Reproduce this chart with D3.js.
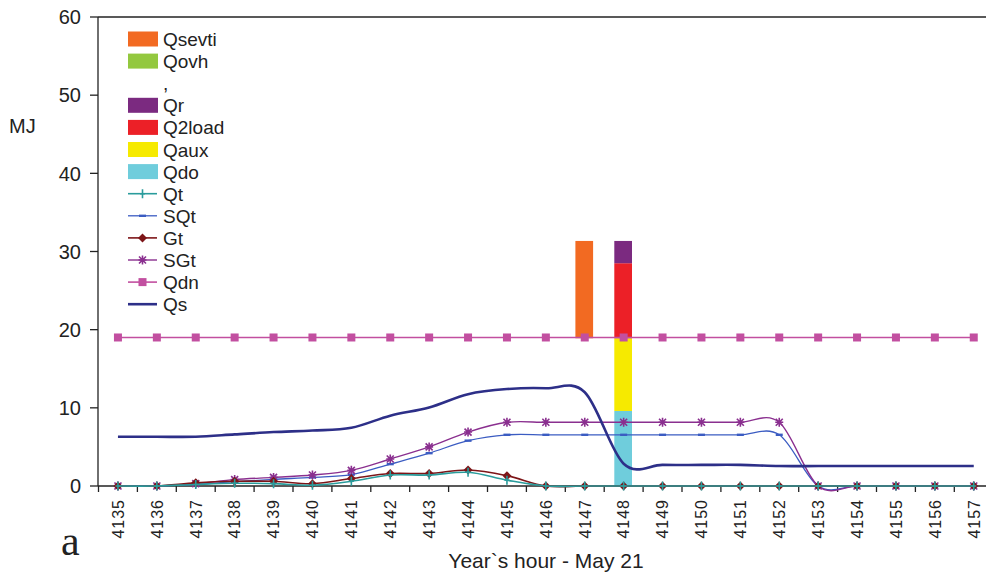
<!DOCTYPE html>
<html>
<head>
<meta charset="utf-8">
<script src="https://cdn.jsdelivr.net/npm/d3@7"></script>
<style>
  html, body { margin: 0; padding: 0; background: #fff; }
  svg { display: block; }
  text { font-family: "Liberation Sans", Arial, sans-serif; fill: #222; }
</style>
</head>
<body>
<svg id="chart" width="986" height="581"></svg>
<script>
// Hours of the year (May 21)
const hours = ["4135","4136","4137","4138","4139","4140","4141","4142","4143","4144","4145","4146",
               "4147","4148","4149","4150","4151","4152","4153","4154","4155","4156","4157"];
const yTicks = [0, 10, 20, 30, 40, 50, 60];

// Stacked bar series (MJ), bottom to top
const Qdo    = [0,0,0,0,0,0,0,0,0,0,0,0, 0, 9.6, 0,0,0,0,0,0,0,0,0];
const Qaux   = [0,0,0,0,0,0,0,0,0,0,0,0, 0, 9.3, 0,0,0,0,0,0,0,0,0];
const Q2load = [0,0,0,0,0,0,0,0,0,0,0,0, 0, 9.6, 0,0,0,0,0,0,0,0,0];
const Qr     = [0,0,0,0,0,0,0,0,0,0,0,0, 0, 2.85,0,0,0,0,0,0,0,0,0];
const Qblank = [0,0,0,0,0,0,0,0,0,0,0,0, 18.9,0, 0,0,0,0,0,0,0,0,0];
const Qovh   = [0,0,0,0,0,0,0,0,0,0,0,0, 0, 0, 0,0,0,0,0,0,0,0,0];
const Qsevti = [0,0,0,0,0,0,0,0,0,0,0,0, 12.45,0,0,0,0,0,0,0,0,0,0];

// Line series (MJ)
const Qt  = [0,0,0.2,0.35,0.3,0.1,0.6,1.4,1.4,1.75,0.75,0, 0,0,0,0,0,0,0,0,0,0,0];
const SQt = [0,0,0.2,0.55,0.85,1.1,1.45,2.8,4.2,5.8,6.55,6.55, 6.55,6.55,6.55,6.55,6.55,6.55,0,0,0,0,0];
const Gt  = [0,0,0.4,0.6,0.6,0.3,0.95,1.6,1.6,2.05,1.32,0, 0,0,0,0,0,0,0,0,0,0,0];
const SGt = [0,0,0.3,0.82,1.1,1.4,2.0,3.45,5.0,6.9,8.15,8.15, 8.15,8.15,8.15,8.15,8.15,8.15,0,0,0,0,0];
const Qdn = [19,19,19,19,19,19,19,19,19,19,19,19, 19,19,19,19,19,19,19,19,19,19,19];
const Qs  = [6.3,6.3,6.3,6.6,6.9,7.1,7.45,9.0,10.05,11.75,12.4,12.5, 12.0,2.85,2.7,2.7,2.7,2.55,2.55,2.55,2.55,2.55,2.55];

const svg = d3.select("#chart");

const x = d3.scaleBand().domain(hours).range([98.5, 98.5 + 23 * 38.9]).padding(0);
const y = d3.scaleLinear().domain([0, 60]).range([486, 17]);
const cx = h => x(h) + x.bandwidth() / 2;

// ---- bars ----
const barKeys = ["Qdo", "Qaux", "Q2load", "Qr", "blank", "Qovh", "Qsevti"];
const barColors = { Qdo: "#6fcddc", Qaux: "#f6ea00", Q2load: "#ec2027", Qr: "#7b2a80",
                    blank: "none", Qovh: "#93c83f", Qsevti: "#f26a22" };
const barSrc = { Qdo, Qaux, Q2load, Qr, blank: Qblank, Qovh, Qsevti };
const rows = hours.map((h, i) => {
  const r = { hour: h };
  barKeys.forEach(k => r[k] = barSrc[k][i]);
  return r;
});
const stacked = d3.stack().keys(barKeys)(rows);
const barW = x.bandwidth() * 0.455;
svg.append("g").selectAll("g").data(stacked).join("g")
  .attr("fill", d => barColors[d.key])
  .selectAll("rect").data(d => d.filter(p => p[1] - p[0] > 0)).join("rect")
  .attr("x", d => cx(d.data.hour) - barW / 2 - 0.5)
  .attr("width", barW)
  .attr("y", d => y(d[1]))
  .attr("height", d => y(d[0]) - y(d[1]));

// ---- axes ----
const axisColor = "#222";
const g = svg.append("g");
// left axis line and top frame line
g.append("line").attr("x1", 98).attr("x2", 98).attr("y1", y(60)).attr("y2", y(0))
  .attr("stroke", axisColor).attr("stroke-width", 1.3);
g.append("line").attr("x1", 98).attr("x2", 986).attr("y1", y(60)).attr("y2", y(60))
  .attr("stroke", axisColor).attr("stroke-width", 1.3);
// y ticks
yTicks.forEach(t => {
  g.append("line").attr("x1", 90).attr("x2", 98).attr("y1", y(t)).attr("y2", y(t))
    .attr("stroke", axisColor).attr("stroke-width", 1.3);
  g.append("text").attr("x", 81).attr("y", y(t)).attr("dy", "0.36em")
    .attr("text-anchor", "end").style("font-size", "20px").text(t);
});
// x axis line
g.append("line").attr("x1", 98).attr("x2", 986).attr("y1", y(0)).attr("y2", y(0))
  .attr("stroke", axisColor).attr("stroke-width", 1.3);
// category boundary ticks
hours.forEach(h => {
  g.append("line").attr("x1", x(h)).attr("x2", x(h)).attr("y1", y(0)).attr("y2", y(0) + 6)
    .attr("stroke", axisColor).attr("stroke-width", 1.3);
});
// rotated hour labels
hours.forEach(h => {
  g.append("text")
    .attr("transform", `translate(${cx(h)},${499}) rotate(-90)`)
    .attr("text-anchor", "end").attr("dy", "0.36em")
    .style("font-size", "16px").style("letter-spacing", "1px")
    .text(h);
});

// axis titles
svg.append("text").attr("x", 9).attr("y", 133).style("font-size", "20px").text("MJ");
svg.append("text").attr("x", 546).attr("y", 568).attr("text-anchor", "middle")
  .style("font-size", "21px").text("Year`s hour - May 21");
svg.append("text").attr("x", 61).attr("y", 555)
  .style("font-family", "'Liberation Serif', 'DejaVu Serif', serif").style("font-size", "42px")
  .text("a");

// ---- lines ----
const line = d3.line()
  .x((d, i) => cx(hours[i]))
  .y(d => y(d))
  .curve(d3.curveCardinal.tension(0));

const lineSeries = [
  { name: "SQt", data: SQt, color: "#3b5cc2", width: 1.3, marker: "dash" },
  { name: "SGt", data: SGt, color: "#8a2f8f", width: 1.4, marker: "star" },
  { name: "Gt",  data: Gt,  color: "#7d1518", width: 1.6, marker: "diamond" },
  { name: "Qt",  data: Qt,  color: "#2a9c9c", width: 1.6, marker: "plus" },
  { name: "Qdn", data: Qdn, color: "#c24fa0", width: 1.6, marker: "square" },
  { name: "Qs",  data: Qs,  color: "#2d2f88", width: 2.6, marker: null }
];

function drawMarker(sel, type, color) {
  if (type === "square") {
    sel.append("rect").attr("x", -4).attr("y", -4).attr("width", 8).attr("height", 8)
      .attr("fill", color);
  } else if (type === "diamond") {
    sel.append("path").attr("d", "M0,-4.5L4.5,0L0,4.5L-4.5,0Z").attr("fill", color);
  } else if (type === "star") {
    sel.append("path").attr("d", "M-3.5,-3.5L3.5,3.5M-3.5,3.5L3.5,-3.5M0,-4.5L0,4.5M-4,0L4,0")
      .attr("stroke", color).attr("stroke-width", 1.6);
  } else if (type === "plus") {
    sel.append("path").attr("d", "M0,-4.5L0,4.5M-2.5,0L2.5,0")
      .attr("stroke", color).attr("stroke-width", 1.6);
  } else if (type === "dash") {
    sel.append("rect").attr("x", -3.5).attr("y", -1.2).attr("width", 7).attr("height", 2.4)
      .attr("fill", color);
  }
}

lineSeries.forEach(s => {
  const sg = svg.append("g");
  sg.append("path").datum(s.data).attr("d", line)
    .attr("fill", "none").attr("stroke", s.color).attr("stroke-width", s.width)
    .attr("stroke-linejoin", "round");
  if (s.marker) {
    s.data.forEach((v, i) => {
      const m = sg.append("g").attr("transform", `translate(${cx(hours[i])},${y(v)})`);
      drawMarker(m, s.marker, s.color);
    });
  }
});

// ---- legend ----
const legendItems = [
  { name: "Qsevti", type: "box", color: barColors.Qsevti },
  { name: "Qovh",   type: "box", color: barColors.Qovh },
  { name: ",",      type: "box", color: "none" },
  { name: "Qr",     type: "box", color: barColors.Qr },
  { name: "Q2load", type: "box", color: barColors.Q2load },
  { name: "Qaux",   type: "box", color: barColors.Qaux },
  { name: "Qdo",    type: "box", color: barColors.Qdo },
  { name: "Qt",  type: "line", color: "#2a9c9c", marker: "plus", width: 1.6 },
  { name: "SQt", type: "line", color: "#3b5cc2", marker: "dash", width: 1.3 },
  { name: "Gt",  type: "line", color: "#7d1518", marker: "diamond", width: 1.6 },
  { name: "SGt", type: "line", color: "#8a2f8f", marker: "star", width: 1.4 },
  { name: "Qdn", type: "line", color: "#c24fa0", marker: "square", width: 1.6 },
  { name: "Qs",  type: "line", color: "#2d2f88", marker: null, width: 2.6 }
];
const lg = svg.append("g");
legendItems.forEach((it, i) => {
  const cy = 39 + 22.1 * i;
  if (it.type === "box") {
    lg.append("rect").attr("x", 128).attr("y", cy - 7.5).attr("width", 30).attr("height", 15)
      .attr("fill", it.color);
  } else {
    lg.append("line").attr("x1", 128).attr("x2", 157).attr("y1", cy).attr("y2", cy)
      .attr("stroke", it.color).attr("stroke-width", it.width);
    if (it.marker) {
      drawMarker(lg.append("g").attr("transform", `translate(142.5,${cy})`), it.marker, it.color);
    }
  }
  lg.append("text").attr("x", 163).attr("y", cy + 7).style("font-size", "19px").text(it.name);
});
</script>
</body>
</html>
